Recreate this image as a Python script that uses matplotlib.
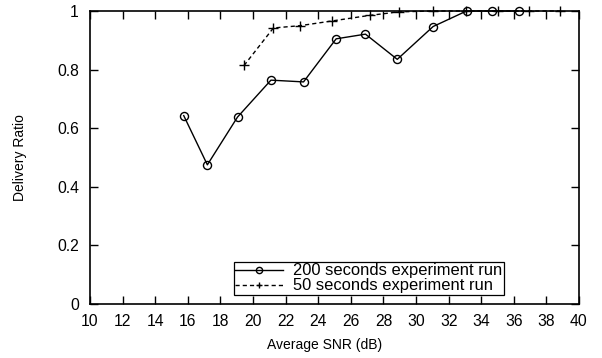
import matplotlib
matplotlib.use("Agg")
import matplotlib.pyplot as plt

plt.rcParams['font.family'] = ['Liberation Sans', 'DejaVu Sans']

snr_200 = [15.75, 17.2, 19.05, 21.1, 23.1, 25.1, 26.9, 28.85, 31.05, 33.1, 34.65, 36.3]
ratio_200 = [0.643, 0.475, 0.638, 0.764, 0.758, 0.905, 0.921, 0.835, 0.947, 1.0, 1.0, 1.0]

snr_50 = [19.45, 21.25, 22.9, 24.85, 27.15, 28.95, 31.05, 33.05, 35.0, 36.95, 38.85]
ratio_50 = [0.814, 0.942, 0.950, 0.966, 0.985, 0.997, 1.0, 1.0, 1.0, 1.0, 1.0]

x_ticks = list(range(10, 41, 2))
y_ticks = [0, 0.2, 0.4, 0.6, 0.8, 1]
y_tick_labels = ['0', '0.2', '0.4', '0.6', '0.8', '1']

fig = plt.figure(figsize=(6.02, 3.58), dpi=100)
ax = fig.add_axes([90/602, 1-304/358, (579-90)/602, (304-11)/358])

ax.plot(snr_200, ratio_200, color='black', linestyle='-', linewidth=1.0,
        marker='o', markersize=5.8, markerfacecolor='none', markeredgewidth=1.0,
        label='200 seconds experiment run', clip_on=False, zorder=3)
ax.plot(snr_50, ratio_50, color='black', linestyle=(0, (3, 2.2)), linewidth=1.0,
        marker='+', markersize=7, markeredgewidth=1.0,
        label='50 seconds experiment run', clip_on=False, zorder=3)

ax.set_xlim(10, 40)
ax.set_ylim(0, 1)
ax.set_xticks(x_ticks)
ax.set_yticks(y_ticks)
ax.set_yticklabels(y_tick_labels)
ax.tick_params(direction='in', length=5.5, width=1, top=True, right=True,
               labelsize=11.3, colors='black')
ax.tick_params(axis='x', pad=7)
ax.tick_params(axis='y', pad=8)
for s in ax.spines.values():
    s.set_linewidth(1.2)

ax.set_xlabel('Average SNR (dB)', fontsize=10)
ax.set_ylabel('Delivery Ratio', fontsize=10)
ax.xaxis.label.set_va('center')
ax.xaxis.set_label_coords((324.5-90)/489, (304-345)/293)
ax.yaxis.label.set_va('center')
ax.yaxis.set_label_coords((20-90)/489, 0.5 - 0.5/293)

leg = ax.legend(loc='lower right', bbox_to_anchor=(504/602, (358-295)/358),
                bbox_transform=fig.transFigure, fontsize=11.9, frameon=True,
                fancybox=False, edgecolor='black', framealpha=1,
                borderpad=0.1, labelspacing=0.0, handlelength=2.9,
                handletextpad=0.6, borderaxespad=0)
leg.get_frame().set_linewidth(0.9)
for h in leg.legend_handles:
    h.set_markersize(4.5)

fig.savefig('out.png', dpi=100)
